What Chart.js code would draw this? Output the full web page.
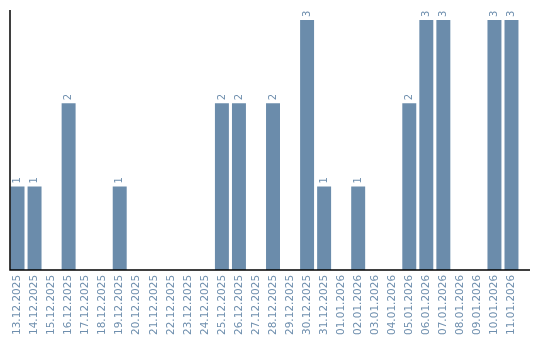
<!DOCTYPE html>
<html>
<head>
<meta charset="utf-8">
<style>
  html, body { margin: 0; padding: 0; background: #fff; }
  #wrap { width: 540px; height: 340px; }
</style>
<script src="https://cdn.jsdelivr.net/npm/chart.js@4/dist/chart.umd.min.js"></script>
</head>
<body>
<div id="wrap"><canvas id="chart"></canvas></div>
<script>
const dates = [
  '13.12.2025', '14.12.2025', '15.12.2025', '16.12.2025', '17.12.2025', '18.12.2025',
  '19.12.2025', '20.12.2025', '21.12.2025', '22.12.2025', '23.12.2025', '24.12.2025',
  '25.12.2025', '26.12.2025', '27.12.2025', '28.12.2025', '29.12.2025', '30.12.2025',
  '31.12.2025', '01.01.2026', '02.01.2026', '03.01.2026', '04.01.2026', '05.01.2026',
  '06.01.2026', '07.01.2026', '08.01.2026', '09.01.2026', '10.01.2026', '11.01.2026'
];
const counts = [1, 1, 0, 2, 0, 0, 1, 0, 0, 0, 0, 0, 2, 2, 0, 2, 0, 3, 1, 0, 1, 0, 0, 2, 3, 3, 0, 0, 3, 3];

const barColor = '#6b8cab';
const textColor = '#6f8fae';

// value labels above bars, rotated like the dates
const valueLabels = {
    id: 'valueLabels',
    afterDatasetsDraw(chart) {
        const ctx = chart.ctx;
        const meta = chart.getDatasetMeta(0);
        ctx.save();
        ctx.fillStyle = textColor;
        ctx.font = '10px "DejaVu Sans"';
        ctx.textAlign = 'left';
        ctx.textBaseline = 'middle';
        meta.data.forEach((bar, i) => {
            if (!counts[i]) return;
            ctx.save();
            ctx.translate(bar.x, bar.y - 3);
            ctx.rotate(-Math.PI / 2);
            ctx.fillText(String(counts[i]), 0, 0);
            ctx.restore();
        });
        ctx.restore();
    }
};

// axis lines: y at the left edge, x running a little past the bars
const axisLines = {
    id: 'axisLines',
    afterDraw(chart) {
        const ctx = chart.ctx;
        const y = chart.scales.y;
        const x0 = chart.chartArea.left + 1;
        ctx.save();
        ctx.strokeStyle = '#000';
        ctx.lineWidth = 1.5;
        ctx.beginPath();
        ctx.moveTo(x0, y.getPixelForValue(3.12));
        ctx.lineTo(x0, y.getPixelForValue(0));
        ctx.lineTo(530, y.getPixelForValue(0));
        ctx.stroke();
        ctx.restore();
    }
};

new Chart(document.getElementById('chart'), {
    type: 'bar',
    data: {
        labels: dates,
        datasets: [{
            data: counts,
            backgroundColor: barColor,
            barPercentage: 0.82,
            categoryPercentage: 1
        }]
    },
    options: {
        responsive: true,
        maintainAspectRatio: false,
        animation: false,
        layout: { padding: { left: 9, right: 20, top: 10, bottom: 0 } },
        plugins: { legend: { display: false }, tooltip: { enabled: false } },
        scales: {
            x: {
                grid: { display: false, drawTicks: false },
                border: { display: false },
                ticks: {
                    color: textColor,
                    font: { family: 'DejaVu Sans', size: 10.5 },
                    minRotation: 90,
                    maxRotation: 90,
                    autoSkip: false,
                    padding: 5
                }
            },
            y: {
                display: false,
                min: 0,
                max: 3.12
            }
        }
    },
    plugins: [valueLabels, axisLines]
});
</script>
</body>
</html>
